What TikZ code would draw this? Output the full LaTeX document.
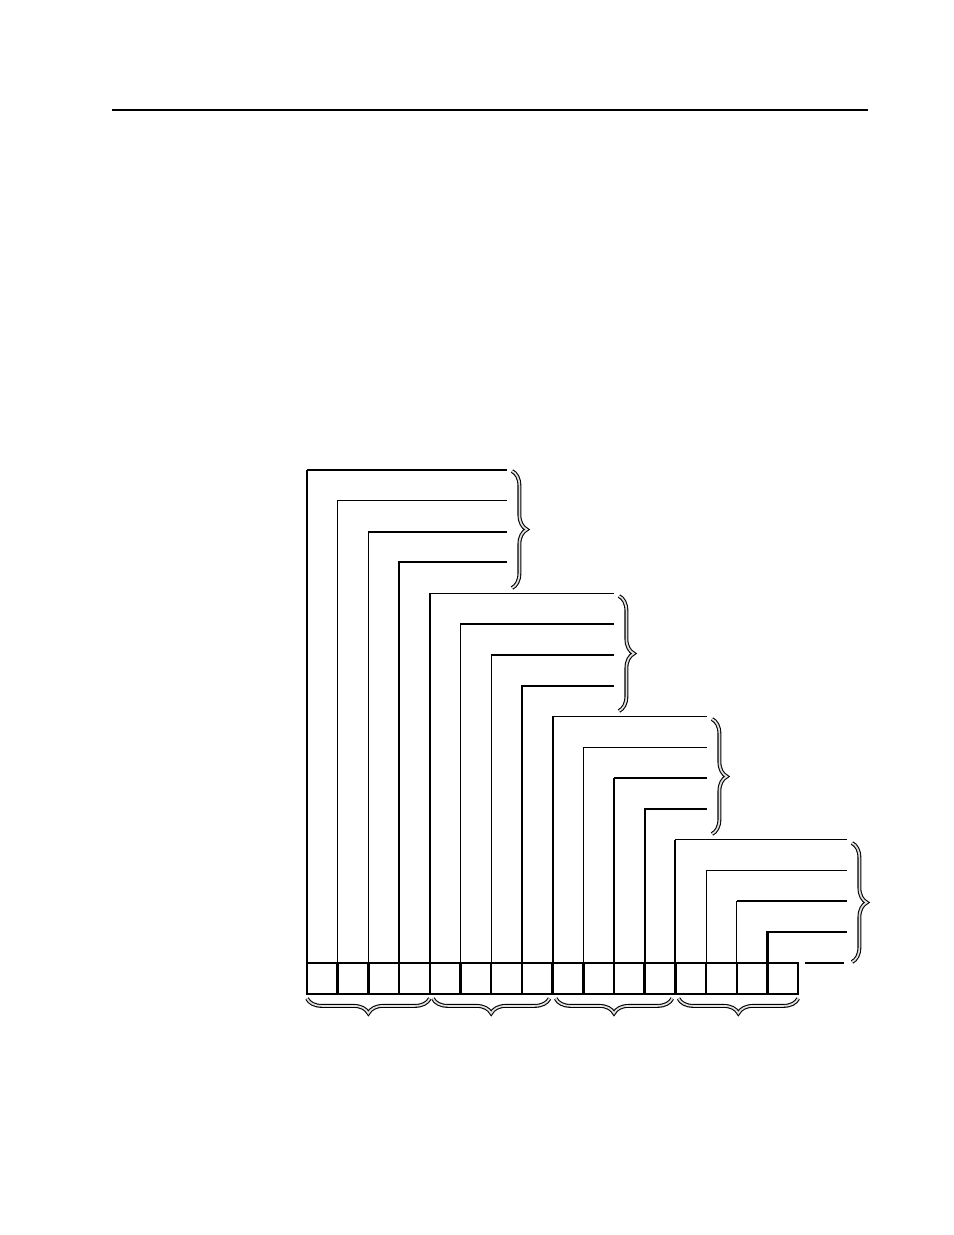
\documentclass[tikz,border=0pt]{standalone}
\usetikzlibrary{decorations.pathreplacing}

\begin{document}
\begin{tikzpicture}[x=0.6415pt,y=-0.6415pt,
	cell/.style={
		% The shape:
		rectangle,
		% The size:
		minimum width=19.7pt,
		minimum height=19.76pt,
		inner sep=0pt, outer sep=0pt,
		% The border:
		draw=black, line width=1.6pt
		},
	thinline/.style={line width=0.75pt},
	thickline/.style={line width=1.3pt},
	grpbrace/.style={
		decorate, decoration={brace,amplitude=9.5pt},
		draw=black, line width=0.7pt,
		double=black!12, double distance=1.1pt
		}]

	\useasboundingbox (0,0) rectangle (954,1235);

	% rule at the top of the page
	\draw[line width=1.3pt] (112,110) -- (868,110);

	% the sixteen cells
	\foreach \i in {0,...,15}
		\node (c\i) [cell] at ({322.35+30.7*\i},978.4) {};

	% a line from every cell up and to the right
	\foreach \i/\xend in {0/507,1/507,2/507,3/507,4/614,5/614,6/614,7/614,
		8/707,9/707,10/707,11/707,12/847,13/847,14/847,15/847} {
		\pgfmathtruncatemacro\k{mod(\i,4)}
		\coordinate (k\i) at (c\i.north west |- 0,{470+30.8*\i});
		\coordinate (e\i) at (\xend,{470+30.8*\i});
		\ifnum\k=0 \draw[thickline] (c\i.north west) -- (k\i); \draw[thinline] (k\i) -- (e\i); \fi
		\ifnum\k=1 \draw[thinline] (c\i.north west) -- (k\i) -- (e\i); \fi
		\ifnum\k=2 \draw[thinline] (c\i.north west) -- (k\i); \draw[thickline] (k\i) -- (e\i); \fi
		\ifnum\k=3 \draw[thickline] (c\i.north west) -- (k\i) -- (e\i); \fi
	}

	% short line at the level of the cells
	\coordinate (s0) at (805,963);
	\coordinate (s1) at (844,963);
	\draw[thinline] (s0) -- (s1);

	% braces on the right
	\draw[grpbrace] (512,471) -- (512,588);
	\draw[grpbrace] (619,596) -- (619,711);
	\draw[grpbrace] (712,719) -- (712,834);
	\draw[grpbrace] (852,843) -- (852,962);

	% braces under the cells
	\draw[grpbrace] ([yshift=-3pt]c3.south east) -- ([yshift=-3pt]c0.south west);
	\draw[grpbrace] ([xshift=-2pt,yshift=-3pt]c7.south east) -- ([xshift=2pt,yshift=-3pt]c4.south west);
	\draw[grpbrace] ([xshift=-2pt,yshift=-3pt]c11.south east) -- ([xshift=2pt,yshift=-3pt]c8.south west);
	\draw[grpbrace] ([yshift=-3pt]c15.south east) -- ([xshift=2pt,yshift=-3pt]c12.south west);

\end{tikzpicture}
\end{document}
